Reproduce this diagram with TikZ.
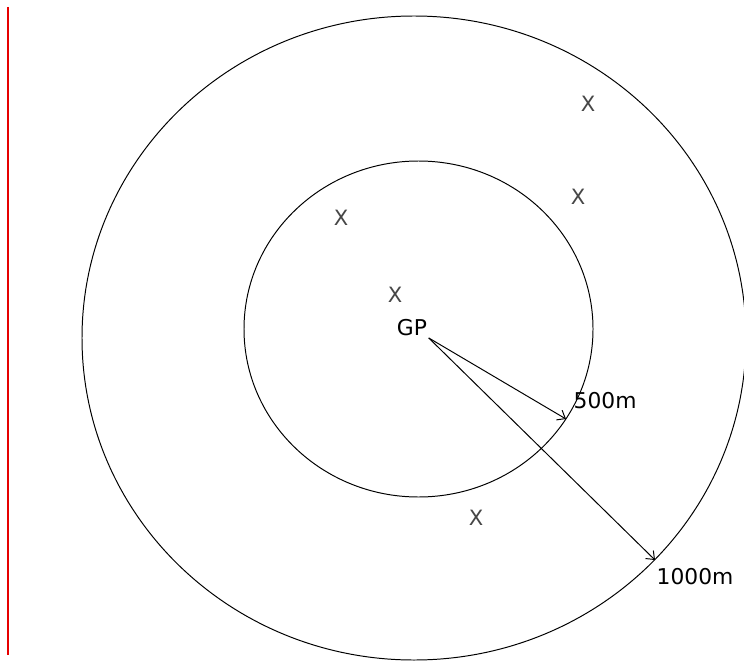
\documentclass[tikz,border=0pt]{standalone}
\usepackage{fontspec}
\newfontfamily\labelfont{DejaVu Sans}
\usepackage{tikz}
\usetikzlibrary{arrows.meta,positioning}
\definecolor{markerGray}{RGB}{70,70,70}
\definecolor{edgeRed}{RGB}{230,0,0}

\begin{document}
\begin{tikzpicture}[
        ring/.style={draw, line width=0.7pt},
        mk/.style={font=\labelfont\fontsize{15}{18}\selectfont, text=markerGray, inner sep=0pt},
        lbl/.style={font=\labelfont\fontsize{15.5}{18}\selectfont, inner sep=1pt},
        arr/.style={-{Straight Barb[length=5pt,width=8pt]}, line width=0.7pt}
      ]
        \useasboundingbox (0,0) rectangle (18.6,16.5);
        % red margin line
        \draw[edgeRed, line width=0.8pt] (0.2,16.325) -- (0.2,0.125);
        % rings
        \draw[ring] (10.35,8.05) ellipse [x radius=8.3cm, y radius=8.05cm];
        \draw[ring] (10.4625,8.275) ellipse [x radius=4.3625cm, y radius=4.2cm];
        % markers
        \node[mk] (x1) at (14.7,13.9) {X};
        \node[mk] (x2) at (14.45,11.575) {X};
        \node[mk] (x3) at (8.525,11.05) {X};
        \node[mk] (x4) at (9.875,9.125) {X};
        \node[mk] (x5) at (11.9,3.55) {X};
        % centre and radii
        \node[lbl] (gp) at (10.3,8.3) {GP};
        \coordinate (r500) at (14.15,6.025);
        \coordinate (r1000) at (16.375,2.5);
        \node[lbl, anchor=west] (l500) at (14.3,6.475) {500m};
        \node[lbl, anchor=west] (l1000) at (16.375,2.075) {1000m};
        \draw[arr] (gp.south east) -- (r500);
        \draw[arr] (gp.south east) -- (r1000);
      \end{tikzpicture}
\end{document}
